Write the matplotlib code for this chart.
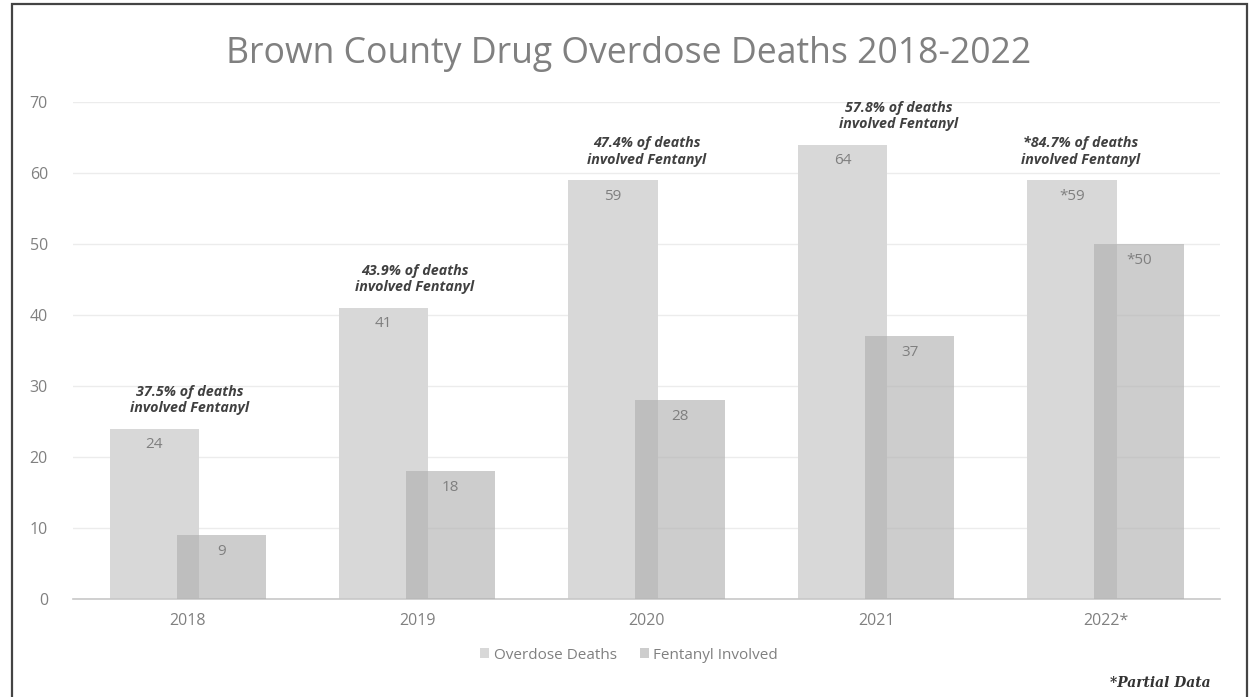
import numpy as np
import matplotlib.pyplot as plt
from matplotlib.patches import Rectangle

years = ['2018', '2019', '2020', '2021', '2022*']
overdose = [24, 41, 59, 64, 59]
fentanyl = [9, 18, 28, 37, 50]
overdose_labels = ['24', '41', '59', '64', '*59']
fentanyl_labels = ['9', '18', '28', '37', '*50']
notes = ['37.5% of deaths\ninvolved Fentanyl',
         '43.9% of deaths\ninvolved Fentanyl',
         '47.4% of deaths\ninvolved Fentanyl',
         '57.8% of deaths\ninvolved Fentanyl',
         '*84.7% of deaths\ninvolved Fentanyl']
note_shift = [0.01, -0.01, 0.0, 0.1, -0.11]

plt.rcParams['font.family'] = ['Open Sans', 'DejaVu Sans']

fig = plt.figure(figsize=(12.58, 6.97), dpi=100)
ax = fig.add_axes([0.058, 0.1406, 0.912, 0.7131])

x = np.arange(len(years))
w = 0.389
off = 0.146
ax.bar(x - off, overdose, w, color='#d8d8d8', label='Overdose Deaths', zorder=2)
ax.bar(x + off, fentanyl, w, color='#b0b0b0', alpha=0.63, label='Fentanyl Involved', zorder=3)

for i in range(len(x)):
    ax.text(x[i] - off, overdose[i] - 1.2, overdose_labels[i], ha='center', va='top',
            color='#7f7f7f', fontsize=11, zorder=4)
    ax.text(x[i] + off, fentanyl[i] - 1.2, fentanyl_labels[i], ha='center', va='top',
            color='#7f7f7f', fontsize=11, zorder=4)
    ax.text(x[i] + note_shift[i], overdose[i] + 1.9, notes[i], ha='center', va='bottom',
            color='#404040', fontsize=10.3, fontweight='bold', fontstyle='italic',
            linespacing=1.2, zorder=4)

ax.set_xlim(-0.5, 4.5)
ax.set_ylim(0, 70)
ax.set_yticks(range(0, 71, 10))
ax.set_xticks(x)
ax.set_xticklabels(years)
ax.grid(axis='y', color='#ececec', linewidth=1, zorder=0)
for s in ['top', 'right', 'left']:
    ax.spines[s].set_visible(False)
ax.spines['bottom'].set_color('#c8c8c8')
ax.spines['bottom'].set_linewidth(1.2)
ax.tick_params(axis='both', length=0, colors='#808080', labelsize=11.5)
ax.tick_params(axis='y', pad=18)
ax.tick_params(axis='x', pad=10)

fig.text(0.5, 0.922, 'Brown County Drug Overdose Deaths 2018-2022', ha='center', va='center',
         fontsize=25.7, color='#808080')

leg = fig.legend(loc='center', bbox_to_anchor=(0.5, 0.06), ncol=2, frameon=False,
                 fontsize=11, handlelength=0.6, handleheight=0.6, columnspacing=1.5,
                 handletextpad=0.3)
for t in leg.get_texts():
    t.set_color('#808080')

fig.text(0.922, 0.02, '*Partial Data', ha='center', va='center', fontsize=10,
         fontweight='bold', fontstyle='italic', color='#333333', family='DejaVu Serif')

fig.patches.append(Rectangle((0.0095, -0.02), 0.9818, 1.0143, transform=fig.transFigure,
                             fill=False, edgecolor='#444444', linewidth=1.6))

fig.savefig('out.png', dpi=100)
